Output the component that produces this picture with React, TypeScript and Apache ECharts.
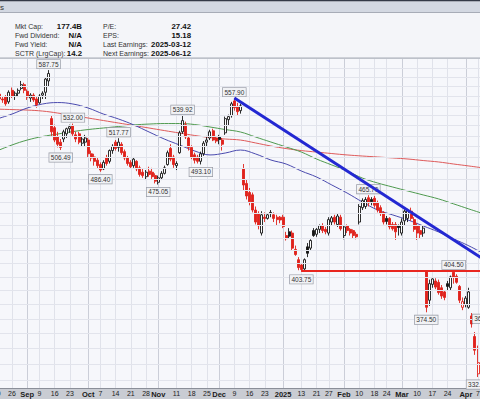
import React, { useEffect, useRef } from 'react';
import * as echarts from 'echarts';

const dates = [
  '2024-08-19','2024-08-20','2024-08-21','2024-08-22','2024-08-23','2024-08-26','2024-08-27','2024-08-28','2024-08-29','2024-08-30',
  '2024-09-03','2024-09-04','2024-09-05','2024-09-06','2024-09-09','2024-09-10','2024-09-11','2024-09-12','2024-09-13','2024-09-16',
  '2024-09-17','2024-09-18','2024-09-19','2024-09-20','2024-09-23','2024-09-24','2024-09-25','2024-09-26','2024-09-27','2024-09-30',
  '2024-10-01','2024-10-02','2024-10-03','2024-10-04','2024-10-07','2024-10-08','2024-10-09','2024-10-10','2024-10-11','2024-10-14',
  '2024-10-15','2024-10-16','2024-10-17','2024-10-18','2024-10-21','2024-10-22','2024-10-23','2024-10-24','2024-10-25','2024-10-28',
  '2024-10-29','2024-10-30','2024-10-31','2024-11-01','2024-11-04','2024-11-05','2024-11-06','2024-11-07','2024-11-08','2024-11-11',
  '2024-11-12','2024-11-13','2024-11-14','2024-11-15','2024-11-18','2024-11-19','2024-11-20','2024-11-21','2024-11-22','2024-11-25',
  '2024-11-26','2024-11-27','2024-11-29','2024-12-02','2024-12-03','2024-12-04','2024-12-05','2024-12-06','2024-12-09','2024-12-10',
  '2024-12-11','2024-12-12','2024-12-13','2024-12-16','2024-12-17','2024-12-18','2024-12-19','2024-12-20','2024-12-23','2024-12-24',
  '2024-12-26','2024-12-27','2024-12-30','2024-12-31','2025-01-02','2025-01-03','2025-01-06','2025-01-07','2025-01-08','2025-01-10',
  '2025-01-13','2025-01-14','2025-01-15','2025-01-16','2025-01-17','2025-01-21','2025-01-22','2025-01-23','2025-01-24','2025-01-27',
  '2025-01-28','2025-01-29','2025-01-30','2025-01-31','2025-02-03','2025-02-04','2025-02-05','2025-02-06','2025-02-07','2025-02-10',
  '2025-02-11','2025-02-12','2025-02-13','2025-02-14','2025-02-18','2025-02-19','2025-02-20','2025-02-21','2025-02-24','2025-02-25',
  '2025-02-26','2025-02-27','2025-02-28','2025-03-03','2025-03-04','2025-03-05','2025-03-06','2025-03-07','2025-03-10','2025-03-11',
  '2025-03-12','2025-03-13','2025-03-14','2025-03-17','2025-03-18','2025-03-19','2025-03-20','2025-03-21','2025-03-24','2025-03-25',
  '2025-03-26','2025-03-27','2025-03-28','2025-03-31','2025-04-01','2025-04-02','2025-04-03','2025-04-04','2025-04-07','2025-04-08',
  '2025-04-09'
];

const opens = [
  559,562,557,559,554,566,560,563,568,572,
  565,558,561,557,553,561,564,576,537,528,
  519,514,517,522,527,530,521,522,513,514,
  516,503,500,497,493,489,499,496,506,514,
  509,512,505,499,495,492,496,490,486,482,
  487,486,483,477,481,485,493,508,500,492,
  504,524,531,518,509,502,500,496,503,514,
  518,525,518,519,516,523,536,540,555,549,
  545,489,476,468,466,453,450,434,447,446,
  451,449,447,447,447,432,435,434,421,413,
  409,406,423,422,436,433,437,440,437,434,
  443,447,441,447,432,440,437,436,433,443,
  455,456,463.5,462,463,459,455,451,446,446,
  441,441,440,434,444,446,452,445,440,436,
  434,404,383,394.5,397,396,392,389,395,392,
  403.5,400.5,393,378,380,378,372,358,334
];
const highs = [
  562,564,560,561,566,569,565,568,576,574,
  567,563,563,559,562,565,580,587.75,540,531,
  524,517,526,528,531,532,524,524,519,521,
  518,506,503,499,495,497,502,507,512,516,
  517.77,514,507,501,497,500,497,492,489,488,
  491,490,485,483,487,492,506,512,502,496,
  525,539.92,534,520,511,504,502,505,515,520,
  526,527,520,521,518,539,541,554,557.9,553,
  552,493.5,479,472,468,456,452,452,451,450,
  453,451,449,448,449,435,438,436,424,415,
  410,414,426,429,438,438,441,442,439,447,
  448,449,450,449,440,441,438,437,435,458,
  463,464,465.7,464,465,461,457,452,448,447,
  443,443,441,446,453.5,454,455,447,442,440,
  440,405,398,399,399,398,394,390,397,401,
  404.5,402,394,385,386,392,374,361,352
];
const lows = [
  553,555,553,550,552,558,556,559,566,563,
  556,554,554,548,552,557,557,570,520,514,
  509,506.49,514,518,523,520,514,512,510,510,
  500,496,492,489,486.4,488,492,494,503,506,
  505,502,497,492,489,490,487,482,481,479,
  482,480,476,475.05,479,484,492,496,490,488,
  503,522,517,506,498,494,494,493.1,501,510,
  516,515,513,512,506,521,530,538,545,540,
  542,470,462,457,451,441,437,432,443,445,
  447,443,440,442,438,428,430,420,416,405,
  403.75,404,415,420,431,431,434,434,433,432,
  440,441,439,436,429,434,432,430,429,441,
  453,454,456,457,455,451,448,441,441,437,
  436,428.5,432,432,440,443,444,435,428.5,430,
  431,374.5,379,392,391,387,384,383,390,390,
  395,395,381,376,378,377,364,346,332.01
];
const closes = [
  561,557,556,552,564,560,563,566,572,566,
  559,561,556,551,560,563,578,584,524,516,
  512,509,524,527,529,522,517,514,517,518,
  503,499,496,492,488,495,494,506,510,508,
  514,504,499,494,491,498,489,484,483,486,
  484,482,478,481,485,490,504,498,493,494,
  523,535,519,509,500,497,496,503,513,516,
  524,516,515,516.5,512,537,539,552,548,544,
  549.9,474.6,465,460,453,443,440,449,446,449,
  450,446,445,444.7,439.3,429.5,431.5,422,417,407,
  405.5,413,418,428,432,437,440,436,435,445,
  446.5,443,448,437.5,439,436,434,432,431,456,
  461,462,459,460,457,453,450,443,443.5,439,
  437.5,435,438.5,443,452,453,446,437,434,433,
  438,378,395,398.5,392.5,388.5,386,385,393,400,
  399.5,396,383,382,384.5,389,366.5,349,341
];

// moving averages every 5 sessions
const maDates = [
  '2024-08-19','2024-08-26','2024-09-03','2024-09-10','2024-09-17','2024-09-24','2024-10-01','2024-10-08','2024-10-15','2024-10-22',
  '2024-10-29','2024-11-05','2024-11-12','2024-11-19','2024-11-26','2024-12-04','2024-12-11','2024-12-18','2024-12-26','2025-01-03',
  '2025-01-13','2025-01-21','2025-01-28','2025-02-04','2025-02-11','2025-02-19','2025-02-26','2025-03-05','2025-03-12','2025-03-19',
  '2025-03-26','2025-04-02','2025-04-09'
];
const ma50 = [536.6,541.6,547.7,551.8,553.3,551.8,547.7,541.6,536.6,530.7,523.8,517.0,511.3,505.6,501.9,503.7,506.5,502.8,497.2,493.5,487.1,481.7,474.6,467.6,459.9,453.1,448.9,444.7,439.8,434.9,429.3,423.8,417.5];
const ma150 = [505.6,511.3,516.0,519.4,521.8,524.2,526.2,527.7,529.2,530.7,531.6,532.1,532.1,531.1,528.7,526.2,523.8,518.9,514.1,509.4,504.6,498.1,492.6,487.1,480.8,476.4,472.8,469.3,465.9,462.5,458.2,453.9,449.7];
const ma200 = [546.6,546.1,545.6,544.6,542.6,540.1,537.6,535.1,532.6,530.2,527.7,525.2,522.8,520.4,518.4,517.0,516.0,513.2,510.3,507.9,506.0,504.6,503.2,501.9,500.9,500.0,499.1,498.1,496.7,495.4,493.5,491.7,489.8];

const tickDates = ['2024-08-19','2024-08-26','2024-09-03','2024-09-09','2024-09-16','2024-09-23','2024-10-01','2024-10-07','2024-10-14','2024-10-21','2024-10-28','2024-11-01','2024-11-11','2024-11-18','2024-11-25','2024-12-02','2024-12-09','2024-12-16','2024-12-23','2025-01-02','2025-01-13','2025-01-21','2025-01-27','2025-02-03','2025-02-10','2025-02-18','2025-02-24','2025-03-03','2025-03-10','2025-03-17','2025-03-24','2025-04-01','2025-04-07'];
const tickLabels = ['19','26','Sep','9','16','23','Oct','7','14','21','28','Nov','11','18','25','Dec','9','16','23','2025','13','21','27','Feb','10','18','24','Mar','10','17','24','Apr','7'];
const monthStarts = ['2024-09-03','2024-10-01','2024-11-01','2024-12-02','2025-01-02','2025-02-03','2025-03-03','2025-04-01'];

const gridPrices = [330,340,350,360,370,380,390,400,410,420,430,440,450,460,470,480,490,500,510,520,530,540,550,560,570,580,590];

const noteDates = ['2024-09-12','2024-09-18','2024-09-24','2024-10-07','2024-10-15','2024-11-01','2024-11-13','2024-11-21','2024-12-09','2025-01-13','2025-02-13','2025-03-13','2025-03-26','2025-04-07','2025-04-09'];
const notePrices = [587.75,506.49,532.00,486.40,517.77,475.05,539.92,493.10,557.90,403.75,465.70,374.50,404.50,332.01,365.90];
const noteSides = ['high','low','high','low','high','low','high','low','high','low','high','low','high','low','high'];

const trendDates = ['2024-12-09','2025-04-09'];
const trendPrices = [557.9, 413];
const supportDates = ['2025-01-13','2025-04-09'];
const supportPrices = [404.5, 404.5];

const infoLeftLabels = ['Mkt Cap:','Fwd Dividend:','Fwd Yield:','SCTR (LrgCap):'];
const infoLeftValues = ['177.4B','N/A','N/A','14.2'];
const infoRightLabels = ['P/E:','EPS:','Last Earnings:','Next Earnings:'];
const infoRightValues = ['27.42','15.18','2025-03-12','2025-06-12'];

const FONT = '"Liberation Sans", Arial, Helvetica, sans-serif';
const RED = '#e0221c';
const BLACK = '#161616';

export default function App() {
  const ref = useRef<HTMLDivElement>(null);
  useEffect(() => {
    document.body.style.margin = '0';
    const el = ref.current;
    if (!el) return;
    const chart = echarts.init(el, null, { renderer: 'svg' });
    const tickSet = new Set(tickDates);
    const monthSet = new Set(monthStarts);

    const candleData = opens.map((o, i) => {
      const c = closes[i];
      const prev = i > 0 ? closes[i - 1] : o;
      const stroke = c >= prev ? BLACK : RED;
      const fill = c > o ? '#ffffff' : stroke;
      return {
        value: [o, c, lows[i], highs[i]],
        itemStyle: { color: fill, color0: fill, borderColor: stroke, borderColor0: stroke },
      };
    });

    const rowY = [26.3, 35.3, 44.5, 53.8];
    const graphics: any[] = [
      { type: 'rect', shape: { x: 0, y: 0, width: 480, height: 1.5 }, style: { fill: '#343947' } },
      { type: 'rect', shape: { x: 0, y: 1.5, width: 480, height: 10.5 }, style: { fill: '#d3d8e2' } },
      { type: 'rect', shape: { x: 0, y: 12, width: 480, height: 1 }, style: { fill: '#a7acb7' } },
      { type: 'rect', shape: { x: 0, y: 13, width: 480, height: 44.5 }, style: { fill: '#f4f5f9' } },
      { type: 'rect', shape: { x: 0, y: 57.5, width: 480, height: 1.5 }, style: { fill: '#bdc1ca' } },
      { type: 'text', x: 0, y: 7, style: { text: 's', fill: '#333', fontSize: 8, fontFamily: FONT, align: 'left', verticalAlign: 'middle' } },
    ];
    rowY.forEach((y, k) => {
      graphics.push({ type: 'text', x: 15, y, style: { text: infoLeftLabels[k], fill: '#333', fontSize: 7, fontFamily: FONT, align: 'left', verticalAlign: 'middle' } });
      graphics.push({ type: 'text', x: 82, y, style: { text: infoLeftValues[k], fill: '#111', fontSize: 7.8, fontWeight: 'bold', fontFamily: FONT, align: 'right', verticalAlign: 'middle' } });
      graphics.push({ type: 'text', x: 103, y, style: { text: infoRightLabels[k], fill: '#333', fontSize: 7, fontFamily: FONT, align: 'left', verticalAlign: 'middle' } });
      graphics.push({ type: 'text', x: 191, y, style: { text: infoRightValues[k], fill: '#111', fontSize: 7.8, fontWeight: 'bold', fontFamily: FONT, align: 'right', verticalAlign: 'middle' } });
    });

    const maSeries = (vals: number[], color: string) => ({
      type: 'line',
      data: maDates.map((d, k) => [d, vals[k]]),
      smooth: 0.4,
      symbol: 'none',
      showSymbol: false,
      silent: true,
      z: 2,
      lineStyle: { color, width: 1 },
    });

    const option: any = {
      animation: false,
      backgroundColor: '#c9ccd3',
      grid: {
        left: -4.75, right: -5.65, top: 59, bottom: 11,
        show: true, backgroundColor: '#f6f7fb', borderWidth: 0,
        containLabel: false, outerBoundsMode: 'none',
      },
      xAxis: [
        {
          type: 'category', data: dates, boundaryGap: true,
          axisLine: { show: true, lineStyle: { color: '#8b8f99', width: 1 } },
          axisTick: { show: false },
          axisLabel: {
            show: true,
            interval: (_i: number, v: string) => tickSet.has(v),
            formatter: (v: string) => {
              const k = tickDates.indexOf(v);
              const t = k >= 0 ? tickLabels[k] : '';
              return monthSet.has(v) ? '{b|' + t + '}' : t;
            },
            fontSize: 7, color: '#222', fontFamily: FONT, margin: 2, hideOverlap: false,
            rich: { b: { fontWeight: 'bold', fontSize: 7.5, color: '#1a1a1a', fontFamily: FONT } },
          },
          splitLine: {
            show: true, alignWithLabel: true,
            interval: (_i: number, v: string) => tickSet.has(v) && !monthSet.has(v),
            lineStyle: { color: '#e0e2ea', width: 1 },
          },
        },
        {
          type: 'category', data: dates, boundaryGap: true, position: 'bottom',
          axisLine: { show: false }, axisTick: { show: false }, axisLabel: { show: false },
          splitLine: {
            show: true, alignWithLabel: true,
            interval: (_i: number, v: string) => monthSet.has(v),
            lineStyle: { color: '#cbced8', width: 1 },
          },
        },
      ],
      yAxis: {
        type: 'log', logBase: 10, min: 325.3, max: 600,
        axisLine: { show: false }, axisTick: { show: false }, axisLabel: { show: false }, splitLine: { show: false },
      },
      series: [
        {
          type: 'line', data: [], silent: true, z: 1, symbol: 'none',
          markLine: {
            silent: true, symbol: ['none', 'none'], animation: false,
            label: { show: false },
            lineStyle: { color: '#e2e4ec', width: 1, type: 'solid' },
            emphasis: { disabled: true },
            data: gridPrices.map((p) => ({ yAxis: p })),
          },
        },
        maSeries(ma200, '#de5a5a'),
        maSeries(ma150, '#4f9a4f'),
        maSeries(ma50, '#4a4aae'),
        {
          type: 'candlestick', data: candleData, z: 3, barWidth: 2.5, silent: true,
          itemStyle: { borderWidth: 0.9 },
          markPoint: {
            silent: true, symbol: 'circle', symbolSize: 0, animation: false,
            label: {
              show: true, position: 'inside',
              formatter: (p: any) => Number(p.value).toFixed(2),
              fontSize: 6.5, color: '#333', fontFamily: FONT,
              backgroundColor: '#f1f2f5', borderColor: '#979ba5', borderWidth: 0.7,
              padding: [1, 1.5, 0.5, 1.5], lineHeight: 7,
            },
            data: noteDates.map((d, k) => ({
              coord: [d, notePrices[k]],
              value: notePrices[k],
              label: { offset: [0, noteSides[k] === 'high' ? -6 : 7.5] },
            })),
          },
        },
        {
          type: 'line', data: trendDates.map((d, k) => [d, trendPrices[k]]), z: 5, symbol: 'none', silent: true,
          lineStyle: { color: '#2328d2', width: 3 },
        },
        {
          type: 'line', data: supportDates.map((d, k) => [d, supportPrices[k]]), z: 5, symbol: 'none', silent: true,
          lineStyle: { color: '#e8261f', width: 2 },
        },
      ],
      graphic: graphics,
    };
    chart.setOption(option);
    return () => chart.dispose();
  }, []);
  return <div ref={ref} style={{ position: 'absolute', left: 0, top: 0, width: 480, height: 399 }} />;
}
